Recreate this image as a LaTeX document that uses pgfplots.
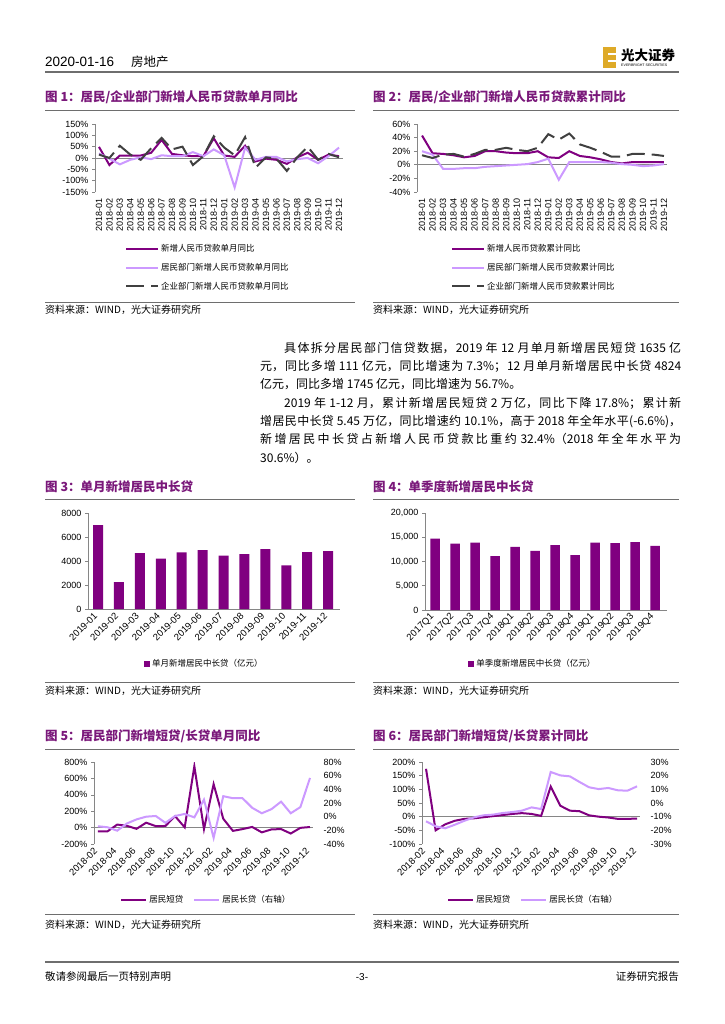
\documentclass[border=0pt]{standalone}
\usepackage{pgfplots}
\pgfplotsset{compat=1.18}
\usepackage{pgfplotstable}
\usepackage{fontspec}
\setmainfont{Liberation Sans}
\newfontfamily\cjk{Noto Sans CJK SC}

\definecolor{dkp}{RGB}{128,0,128}
\definecolor{ltp}{RGB}{204,153,255}
\definecolor{dkg}{RGB}{64,64,64}
\definecolor{ttl}{RGB}{122,24,122}
\definecolor{axc}{RGB}{134,134,134}
\definecolor{rulec}{RGB}{110,110,110}
\definecolor{gold}{RGB}{222,170,40}

% fig 1: single-month yoy (%), 2018-01 .. 2019-12
\pgfplotstableread{
x a b c
0 49 20 15
1 -31 -3 0
2 11 -28 54
3 11 -8 15
4 11 3 -8
5 23 -5 43
6 80 12 89
7 18 8 38
8 12 8 50
9 8 26 -31
10 8 8 8
11 87 38 96
12 11 12 46
13 5 -130 12
14 54 46 92
15 -15 -8 -43
16 -3 5 3
17 -8 5 -3
18 -26 -15 -57
19 3 -5 3
20 23 0 50
21 -8 -23 -8
22 15 8 18
23 8 46 3
}\figA

% fig 2: cumulative yoy (%)
\pgfplotstableread{
x a b c
0 43 20 14
1 17 15 10
2 16 -6 15
3 14 -6 16
4 11 -5 12
5 13 -5 16
6 20 -3 22
7 20 -2 22
8 18 -1 25
9 17 0 22
10 17 1 20
11 20 4 25
12 11 9 45
13 10 -22 37
14 20 4 46
15 13 4 30
16 11 4 25
17 8 4 19
18 4 3 12
19 2 1 12
20 4 0 16
21 4 -2 16
22 4 -1 15
23 4 1 13
}\figB

% fig 3: monthly new mid/long-term household loans (100m yuan)
\pgfplotstableread{
x v
0 7000
1 2250
2 4650
3 4200
4 4720
5 4900
6 4450
7 4580
8 4980
9 3630
10 4740
11 4824
}\figC

% fig 4: quarterly
\pgfplotstableread{
x v
0 14700
1 13700
2 13900
3 11100
4 13000
5 12200
6 13400
7 11300
8 13900
9 13800
10 14000
11 13200
}\figD

% fig 5: short (left) / long (right) single-month yoy, 2018-02 .. 2019-12
\pgfplotstableread{
x s l
0 -45 -14
1 -45 -15.5
2 37 -20.5
3 22 -10
4 -15 -4
5 60 0
6 18 1
7 20 -9
8 140 1
9 3 4
10 748 -1
11 -18 25
12 530 -31
13 108 30
14 -40 27
15 -18 27
16 8 13
17 -58 5
18 -22 11
19 -18 22
20 -72 5
21 -3 14
22 7.3 56.7
}\figE

% fig 6: cumulative yoy
\pgfplotstableread{
x s l
0 175 -13.4
1 -50 -17
2 -28 -18.5
3 -15 -15.9
4 -8 -13
5 -6 -10.5
6 -2 -9
7 2 -8.5
8 6 -7.3
9 10 -6.6
10 13 -5.6
11 10 -3.2
12 3 -4.4
13 110 22.7
14 40 20.2
15 22 19.5
16 20 15.4
17 5 11.5
18 0 10.2
19 -3 11
20 -8 9.3
21 -8 9
22 -7 12.2
}\figF

\pgfplotsset{
  pg/.style={
    scale only axis, anchor=north west,
    axis line style={axc, line width=0.6pt, -},
    tick style={axc, line width=0.6pt},
    major tick length=3pt, tick align=outside,
    scaled y ticks=false,
    tick label style={font=\fontsize{9}{10}\selectfont, text=black},
    legend style={draw=none, fill=none, inner sep=0pt,
      font=\cjk\fontsize{8.5}{10}\selectfont},
    legend cell align=left,
  },
  linechart/.style={
    axis x line*=bottom, axis y line*=left,
    x axis line style={draw=none}, xtick style={draw=none},
    extra y ticks={0}, extra y tick labels={},
    extra y tick style={grid=major, tick style={draw=none}},
    major grid style={axc, line width=0.6pt},
    legend image code/.code={\draw[##1, line width=2pt] (0pt,0pt) -- (32pt,0pt);},
  },
  barchart/.style={
    ybar, bar width=10pt, bar shift=0pt,
    axis x line*=bottom, axis y line*=left, xtick style={draw=none},
    xticklabel style={rotate=45, anchor=east, font=\fontsize{9.5}{10}\selectfont},
    legend image code/.code={\fill[dkp] (0pt,-3pt) rectangle (6pt,3pt);},
  },
  months/.style={xtick={0,...,23}, xticklabels={2018-01,2018-02,2018-03,2018-04,2018-05,2018-06,2018-07,2018-08,2018-09,2018-10,2018-11,2018-12,2019-01,2019-02,2019-03,2019-04,2019-05,2019-06,2019-07,2019-08,2019-09,2019-10,2019-11,2019-12},
    xticklabel style={rotate=90, anchor=east}},
  bimonths/.style={xtick={0,2,...,22}, xticklabels={2018-02,2018-04,2018-06,2018-08,2018-10,2018-12,2019-02,2019-04,2019-06,2019-08,2019-10,2019-12},
    xticklabel style={rotate=45, anchor=east, font=\fontsize{9.5}{10}\selectfont}},
  rightax/.style={axis x line=none, axis y line*=right, y axis line style={draw=none},
    ytick style={draw=none}, yticklabel style={anchor=west, xshift=4pt}},
}

\newcommand\ttlfont{\cjk\bfseries\fontsize{12.5}{14}\selectfont\color{ttl}}
\newcommand\srcfont{\cjk\fontsize{10}{12}\selectfont}

\begin{document}
\begin{tikzpicture}[x=1pt, y=1pt]
\fill[white] (0,0) rectangle (724,-1024);
\path[use as bounding box] (0,0) rectangle (724,-1024);

% header
\node[anchor=base west, inner sep=0pt, font=\fontsize{13.5}{15}\selectfont] at (45,-67) {2020-01-16};
\node[anchor=base west, inner sep=0pt, font=\cjk\fontsize{12.5}{15}\selectfont] at (131,-67) {房地产};
\draw[rulec, line width=1.3pt] (45,-72) -- (679,-72);
\fill[gold] (603,-47) rectangle (616,-68);
\fill[white] (608,-53) rectangle (616,-55.5);
\fill[white] (608,-60) rectangle (616,-62.5);
\node[anchor=west, inner sep=0pt, font=\cjk\bfseries\fontsize{13.5}{15}\selectfont] at (621,-55) {光大证券};
\node[anchor=west, inner sep=0pt, font=\fontsize{3.6}{4}\selectfont] at (621,-65.5) {EVERBRIGHT SECURITIES};

% titles and rules
\node[anchor=west, inner sep=0pt, font=\ttlfont] at (45,-97) {图 1：居民/企业部门新增人民币贷款单月同比};
\node[anchor=west, inner sep=0pt, font=\ttlfont] at (373,-97) {图 2：居民/企业部门新增人民币贷款累计同比};
\node[anchor=west, inner sep=0pt, font=\ttlfont] at (45,-487) {图 3：单月新增居民中长贷};
\node[anchor=west, inner sep=0pt, font=\ttlfont] at (373,-487) {图 4：单季度新增居民中长贷};
\node[anchor=west, inner sep=0pt, font=\ttlfont] at (45,-736) {图 5：居民部门新增短贷/长贷单月同比};
\node[anchor=west, inner sep=0pt, font=\ttlfont] at (373,-736) {图 6：居民部门新增短贷/长贷累计同比};
\foreach \yy in {110,302,499,682,749,914} {
  \draw[rulec, line width=0.8pt] (45,-\yy) -- (355,-\yy);
  \draw[rulec, line width=0.8pt] (373,-\yy) -- (679,-\yy);
}
\foreach \yy in {310,691,925} {
  \node[anchor=west, inner sep=0pt, font=\srcfont] at (45,-\yy) {资料来源：WIND，光大证券研究所};
  \node[anchor=west, inner sep=0pt, font=\srcfont] at (373,-\yy) {资料来源：WIND，光大证券研究所};
}

% body text
\node[anchor=north west, inner sep=0pt, text width=421pt, align=justify,
      font=\cjk\fontsize{12}{18.3}\selectfont] at (260,-342) {%
\XeTeXlinebreaklocale "zh"\XeTeXlinebreakskip=0pt plus 3pt\relax
\parindent=0pt\parfillskip=0pt
\hspace*{24pt}具体拆分居民部门信贷数据，2019 年 12 月单月新增居民短贷 1635 亿\par
元，同比多增 111 亿元，同比增速为 7.3\%；12 月单月新增居民中长贷 4824\par
亿元，同比多增 1745 亿元，同比增速为 56.7\%。\hfill\null\par
\hspace*{24pt}2019 年 1-12 月，累计新增居民短贷 2 万亿，同比下降 17.8\%；累计新\par
增居民中长贷 5.45 万亿，同比增速约 10.1\%，高于 2018 年全年水平(-6.6\%)，\par
新增居民中长贷占新增人民币贷款比重约 32.4\%（2018 年全年水平为\par
30.6\%）。\hfill\null\par};

% footer
\draw[rulec, line width=1.3pt] (45,-962) -- (679,-962);
\node[anchor=west, inner sep=0pt, font=\cjk\fontsize{10.5}{12}\selectfont] at (45,-977) {敬请参阅最后一页特别声明};
\node[inner sep=0pt, font=\fontsize{10}{12}\selectfont] at (362,-977) {-3-};
\node[anchor=east, inner sep=0pt, font=\cjk\fontsize{10.5}{12}\selectfont] at (679,-977) {证券研究报告};

% ---- fig 1
\begin{axis}[pg, linechart, months, at={(95pt,-124pt)}, width=248pt, height=68pt,
  xmin=-0.38, xmax=23.38, ymin=-150, ymax=150,
  ytick={-150,-100,...,150}, yticklabels={-150\%,-100\%,-50\%,0\%,50\%,100\%,150\%},
  legend style={at={(axis description cs:0.121,-0.74)}, anchor=north west, row sep=6pt}]
\addplot[dkp, line width=2pt] table[x=x, y=a] {\figA};
\addlegendentry{新增人民币贷款单月同比}
\addplot[ltp, line width=2pt] table[x=x, y=b] {\figA};
\addlegendentry{居民部门新增人民币贷款单月同比}
\addplot[dkg, line width=2pt, dash pattern=on 18pt off 7pt] table[x=x, y=c] {\figA};
\addlegendentry{企业部门新增人民币贷款单月同比}
\end{axis}

% ---- fig 2
\begin{axis}[pg, linechart, months, at={(417pt,-124pt)}, width=250pt, height=68pt,
  xmin=-0.48, xmax=23.29, ymin=-40, ymax=60,
  ytick={-40,-20,...,60}, yticklabels={-40\%,-20\%,0\%,20\%,40\%,60\%},
  legend style={at={(axis description cs:0.136,-0.74)}, anchor=north west, row sep=6pt}]
\addplot[dkp, line width=2pt] table[x=x, y=a] {\figB};
\addlegendentry{新增人民币贷款累计同比}
\addplot[ltp, line width=2pt] table[x=x, y=b] {\figB};
\addlegendentry{居民部门新增人民币贷款累计同比}
\addplot[dkg, line width=2pt, dash pattern=on 18pt off 7pt] table[x=x, y=c] {\figB};
\addlegendentry{企业部门新增人民币贷款累计同比}
\end{axis}

% ---- fig 3
\begin{axis}[pg, barchart, at={(88pt,-513pt)}, width=252pt, height=96pt,
  xmin=-0.48, xmax=11.57, ymin=0, ymax=8000,
  xtick={0,...,11}, xticklabels={2019-01,2019-02,2019-03,2019-04,2019-05,2019-06,2019-07,2019-08,2019-09,2019-10,2019-11,2019-12},
  ytick={0,2000,...,8000}, yticklabels={0,2000,4000,6000,8000},
  legend style={at={(axis description cs:0.222,-0.573)}, anchor=west}]
\addplot[fill=dkp, draw=none] table[x=x, y=v] {\figC};
\addlegendentry{单月新增居民中长贷（亿元）}
\end{axis}

% ---- fig 4
\begin{axis}[pg, barchart, bar width=9.5pt, at={(425pt,-513pt)}, width=242pt, height=97pt,
  xmin=-0.5, xmax=11.6, ymin=0, ymax=20000,
  xtick={0,...,11}, xticklabels={2017Q1,2017Q2,2017Q3,2017Q4,2018Q1,2018Q2,2018Q3,2018Q4,2019Q1,2019Q2,2019Q3,2019Q4},
  ytick={0,5000,...,20000}, yticklabels={0,{5,000},{10,000},{15,000},{20,000}},
  legend style={at={(axis description cs:0.178,-0.557)}, anchor=west}]
\addplot[fill=dkp, draw=none] table[x=x, y=v] {\figD};
\addlegendentry{单季度新增居民中长贷（亿元）}
\end{axis}

% ---- fig 5
\begin{axis}[pg, linechart, bimonths, at={(94pt,-762pt)}, width=219pt, height=82pt,
  xmin=-0.41, xmax=22.31, ymin=-200, ymax=800,
  ytick={-200,0,...,800}, yticklabels={-200\%,0\%,200\%,400\%,600\%,800\%}]
\addplot[dkp, line width=2pt] table[x=x, y=s] {\figE};
\end{axis}
\begin{axis}[pg, rightax, at={(94pt,-762pt)}, width=219pt, height=82pt,
  xmin=-0.41, xmax=22.31, ymin=-40, ymax=80,
  ytick={-40,-20,...,80}, yticklabels={-40\%,-20\%,0\%,20\%,40\%,60\%,80\%},
  legend image code/.code={\draw[#1, line width=2pt] (0pt,0pt) -- (25pt,0pt);},
  legend columns=-1,
  legend style={at={(axis description cs:0.119,-0.683)}, anchor=west,
    /tikz/every even column/.append style={column sep=8pt}}]
\addlegendimage{dkp}
\addlegendentry{居民短贷}
\addplot[ltp, line width=2pt] table[x=x, y=l] {\figE};
\addlegendentry{居民长贷（右轴）}
\end{axis}

% ---- fig 6
\begin{axis}[pg, linechart, bimonths, at={(422pt,-762pt)}, width=218pt, height=82pt,
  xmin=-0.42, xmax=22.31, ymin=-100, ymax=200,
  ytick={-100,-50,...,200}, yticklabels={-100\%,-50\%,0\%,50\%,100\%,150\%,200\%}]
\addplot[dkp, line width=2pt] table[x=x, y=s] {\figF};
\end{axis}
\begin{axis}[pg, rightax, at={(422pt,-762pt)}, width=218pt, height=82pt,
  xmin=-0.42, xmax=22.31, ymin=-30, ymax=30,
  ytick={-30,-20,...,30}, yticklabels={-30\%,-20\%,-10\%,0\%,10\%,20\%,30\%},
  legend image code/.code={\draw[#1, line width=2pt] (0pt,0pt) -- (25pt,0pt);},
  legend columns=-1,
  legend style={at={(axis description cs:0.115,-0.683)}, anchor=west,
    /tikz/every even column/.append style={column sep=8pt}}]
\addlegendimage{dkp}
\addlegendentry{居民短贷}
\addplot[ltp, line width=2pt] table[x=x, y=l] {\figF};
\addlegendentry{居民长贷（右轴）}
\end{axis}
\end{tikzpicture}
\end{document}
